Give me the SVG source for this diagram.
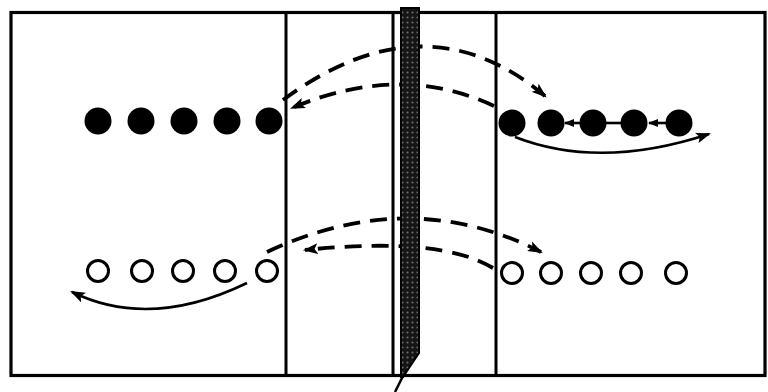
<svg xmlns="http://www.w3.org/2000/svg" width="768" height="392" viewBox="0 0 768 392">
<style>
.frame{fill:none;stroke:#000;stroke-width:3.2}
.wall{stroke:#000;stroke-width:3}
.full{fill:#000}
.empty{fill:#fff;stroke:#000;stroke-width:3}
.dash{fill:none;stroke:#000;stroke-width:3.8;stroke-dasharray:17 10}
.solid{fill:none;stroke:#000;stroke-width:2.6}
</style>
<defs>
<marker id="ah" viewBox="0 0 14 10" refX="12" refY="5" markerWidth="15" markerHeight="11" markerUnits="userSpaceOnUse" orient="auto">
<path d="M0,0 L14,5 L0,10 L3,5 z" fill="#000"/>
</marker>
<marker id="sm" viewBox="0 0 10 8" refX="9" refY="4" markerWidth="10" markerHeight="8" markerUnits="userSpaceOnUse" orient="auto">
<path d="M0,0 L10,4 L0,8 z" fill="#000"/>
</marker>
<pattern id="hatch" width="5" height="5" patternUnits="userSpaceOnUse">
<rect width="5" height="5" fill="#151515"/>
<circle cx="2.5" cy="2.5" r="1.1" fill="#6a6a6a"/>
</pattern>
</defs>
<rect width="768" height="392" fill="#fff"/>
<g id="frame">
<rect class="frame" x="11" y="12.5" width="754" height="363"/>
<line class="wall" x1="286" y1="12" x2="286" y2="376"/>
<line class="wall" x1="393" y1="12" x2="393" y2="376"/>
<line class="wall" x1="496" y1="12" x2="496" y2="376"/>
</g>
<g id="connectors">
<path class="dash" d="M283,100 Q425,-5 545,96" marker-end="url(#ah)"/>
<path class="dash" d="M494,106 Q400,62 292,108" marker-end="url(#ah)"/>
<path class="dash" d="M267,252 Q410,185 541,252" marker-end="url(#ah)"/>
<path class="dash" d="M493,268 Q440,236 305,250" marker-end="url(#ah)"/>
<path class="solid" d="M515,137 Q600,170 709,134" marker-end="url(#ah)"/>
<path class="solid" d="M247,283 Q150,330 72,292" marker-end="url(#ah)"/>
<line class="solid" x1="580" y1="123" x2="565" y2="123" marker-end="url(#sm)"/>
<line class="solid" x1="606" y1="123" x2="622" y2="123"/>
<line class="solid" x1="666" y1="123" x2="649" y2="123" marker-end="url(#sm)"/>
</g>
<g id="membrane">
<polygon points="401,8 419,8 419,353 403,377 401,377" fill="url(#hatch)" stroke="#000" stroke-width="2"/>
<line x1="395" y1="392" x2="403" y2="376" stroke="#000" stroke-width="2.5"/>
</g>
<g id="filled-left">
<circle class="full" cx="98" cy="121" r="13.5"/>
<circle class="full" cx="141" cy="121" r="13.5"/>
<circle class="full" cx="184" cy="121" r="13.5"/>
<circle class="full" cx="227" cy="121" r="13.5"/>
<circle class="full" cx="269" cy="121" r="13.5"/>
</g>
<g id="filled-right">
<circle class="full" cx="512" cy="123" r="13.5"/>
<circle class="full" cx="551" cy="123" r="13.5"/>
<circle class="full" cx="593" cy="123" r="13.5"/>
<circle class="full" cx="634" cy="123" r="13.5"/>
<circle class="full" cx="679" cy="123" r="13.5"/>
</g>
<g id="empty-left">
<circle class="empty" cx="98" cy="271" r="10.5"/>
<circle class="empty" cx="142" cy="271" r="10.5"/>
<circle class="empty" cx="183" cy="271" r="10.5"/>
<circle class="empty" cx="225" cy="271" r="10.5"/>
<circle class="empty" cx="267" cy="271" r="10.5"/>
</g>
<g id="empty-right">
<circle class="empty" cx="512" cy="273" r="10.5"/>
<circle class="empty" cx="551" cy="273" r="10.5"/>
<circle class="empty" cx="591" cy="273" r="10.5"/>
<circle class="empty" cx="631" cy="273" r="10.5"/>
<circle class="empty" cx="676" cy="273" r="10.5"/>
</g>
</svg>
